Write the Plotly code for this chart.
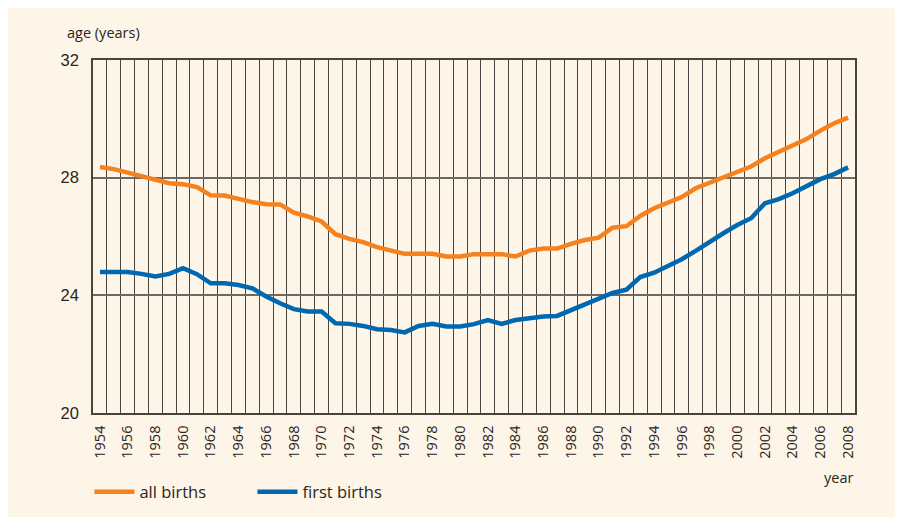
import plotly.graph_objects as go

years = list(range(1954, 2009))
all_births = [28.36, 28.29, 28.17, 28.04, 27.93, 27.81, 27.78, 27.68, 27.40, 27.39,
              27.28, 27.17, 27.10, 27.09, 26.81, 26.68, 26.51, 26.08, 25.92, 25.81,
              25.64, 25.54, 25.41, 25.41, 25.41, 25.32, 25.32, 25.40, 25.40, 25.40,
              25.32, 25.52, 25.59, 25.59, 25.75, 25.88, 25.96, 26.30, 26.35, 26.70,
              26.96, 27.13, 27.34, 27.64, 27.83, 28.02, 28.21, 28.38, 28.66, 28.89,
              29.10, 29.31, 29.60, 29.85, 30.04]
first_births = [24.79, 24.79, 24.79, 24.73, 24.64, 24.73, 24.92, 24.72, 24.41, 24.41,
                24.35, 24.24, 23.96, 23.73, 23.53, 23.45, 23.45, 23.05, 23.03, 22.96,
                22.85, 22.82, 22.74, 22.96, 23.03, 22.94, 22.94, 23.02, 23.16, 23.03,
                23.16, 23.22, 23.28, 23.30, 23.50, 23.71, 23.87, 24.08, 24.19, 24.62,
                24.77, 24.98, 25.23, 25.51, 25.83, 26.11, 26.39, 26.62, 27.13, 27.27,
                27.47, 27.72, 27.95, 28.12, 28.35]
x_ticks = list(range(1954, 2009, 2))
y_ticks = [20, 24, 28, 32]

ORANGE = "#F5821F"
BLUE = "#0067B1"
CREAM = "#FDF5E7"
TEXT = "#2b2523"

fig = go.Figure()
fig.add_trace(go.Scatter(x=years, y=all_births, mode="lines", name="all births",
                         line=dict(color=ORANGE, width=4.5)))
fig.add_trace(go.Scatter(x=years, y=first_births, mode="lines", name="first births",
                         line=dict(color=BLUE, width=4.5)))

boundaries = [y - 0.5 for y in years] + [years[-1] + 0.5]

fig.update_layout(
    width=895, height=509,
    margin=dict(l=85, r=48, t=52, b=104),
    paper_bgcolor=CREAM,
    plot_bgcolor=CREAM,
    font=dict(family="Open Sans, Noto Sans, sans-serif", color=TEXT),
    showlegend=True,
    legend=dict(orientation="h", xref="container", yref="container",
                x=0.091, xanchor="left", y=0.049, yanchor="middle",
                font=dict(size=16.5, family="Open Sans", color=TEXT),
                bgcolor="rgba(0,0,0,0)", itemwidth=40, entrywidth=108),
    xaxis=dict(range=[1953.5, 2008.5], tickmode="array", tickvals=x_ticks,
               ticktext=[str(v) for v in x_ticks], tickangle=-90,
               tickfont=dict(size=14.5, family="Open Sans", color=TEXT),
               ticks="outside", ticklen=5, tickcolor="rgba(0,0,0,0)",
               showgrid=False, zeroline=False,
               showline=True, linecolor="#4a4440", linewidth=1.5, mirror=True,
               minor=dict(tickmode="array", tickvals=boundaries, showgrid=True,
                          gridcolor="#4a4440", gridwidth=1, ticks="")),
    yaxis=dict(range=[20, 32], tickmode="array", tickvals=y_ticks,
               tickfont=dict(size=16.5, family="Liberation Sans, Arial", color=TEXT),
               ticks="outside", ticklen=9, tickcolor="rgba(0,0,0,0)",
               showgrid=True, gridcolor="#6e6863", gridwidth=1.5, zeroline=False,
               showline=True, linecolor="#4a4440", linewidth=1.5, mirror=True),
    annotations=[
        dict(text="age (years)", xref="paper", yref="paper", x=-0.037, y=1.0765,
             xanchor="left", yanchor="middle", showarrow=False,
             font=dict(size=14.5, family="Open Sans", color=TEXT)),
        dict(text="year", xref="paper", yref="paper", x=1.0, y=-0.184,
             xanchor="right", yanchor="middle", showarrow=False,
             font=dict(size=14.5, family="Open Sans", color=TEXT)),
    ],
)

fig.write_html("out.html")
